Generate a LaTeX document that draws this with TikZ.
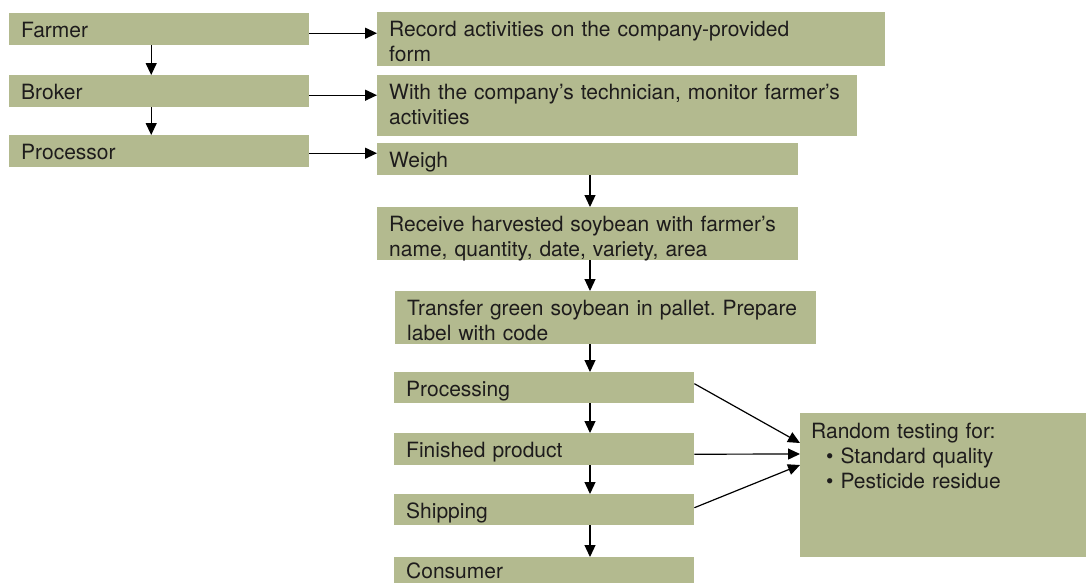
\documentclass[tikz,border=0pt]{standalone}
\usepackage{fontspec}
\setmainfont{TeX Gyre Heros}
\frenchspacing
\usetikzlibrary{arrows.meta}
\definecolor{soyfill}{HTML}{B3BA8F}
\definecolor{soyink}{HTML}{1E1C1C}
\tikzset{
  >={Triangle[length=12pt,width=11pt]},
  font=\fontsize{21}{25.3}\selectfont,
  stepbox/.style={fill=soyfill,text=soyink,anchor=north west,inner xsep=12pt,
                  inner ysep=0pt,align=left,text height=24pt},
  flow/.style={->,line width=1.2pt,draw=black},
}

\begin{document}
\begin{tikzpicture}[x=1pt,y=-1pt]
  \useasboundingbox (0,0) rectangle (1086,582);

  % actors on the left
  \node[stepbox,text width=276pt,text depth=8pt] (farmer) at (9,13) {Farmer};
  \node[stepbox,text width=276pt,text depth=8pt] (broker) at (9,75) {Broker};
  \node[stepbox,text width=276pt,text depth=8pt] (processor) at (9,135) {Processor};

  % their activities
  \node[stepbox,text width=484pt,text depth=30pt] (record) at (377,12)
    {Record activities on the company-provided\\form};
  \node[stepbox,text width=456pt,text depth=37pt] (monitor) at (377,75)
    {With the company’s technician, monitor farmer’s\\activities};
  \node[stepbox,text width=397pt,text depth=8pt] (weigh) at (377,143) {Weigh};
  \node[stepbox,text width=397pt,text depth=29pt] (receive) at (377,207)
    {Receive harvested soybean with farmer’s\\name, quantity, date, variety, area};
  \node[stepbox,text width=397pt,text depth=29pt] (transfer) at (395,291)
    {Transfer green soybean in pallet. Prepare\\label with code};
  \node[stepbox,text width=276pt,text depth=7pt] (processing) at (394,372) {Processing};
  \node[stepbox,text width=276pt,text depth=8pt] (finished) at (394,433) {Finished product};
  \node[stepbox,text width=276pt,text depth=7pt] (shipping) at (394,494) {Shipping};
  \node[stepbox,text width=276pt,text height=21pt,text depth=19pt] (consumer) at (394,557) {Consumer};

  \node[stepbox,inner xsep=11pt,text width=264pt,text height=25pt,text depth=119pt]
    (random) at (800,413)
    {Random testing for:\\
     \hspace*{15pt}•\hspace{7pt}Standard quality\\
     \hspace*{15pt}•\hspace{7pt}Pesticide residue};

  \coordinate (spine) at (590,0);

  \draw[flow] ([xshift=-8pt]farmer.south) -- ([xshift=-8pt]broker.north);
  \draw[flow] ([xshift=-8pt]broker.south) -- ([xshift=-8pt]processor.north);

  \draw[flow] ([yshift=-4pt]farmer.east) -- ([yshift=-4pt]farmer.east -| record.west);
  \draw[flow] ([yshift=-4pt]broker.east) -- ([yshift=-4pt]broker.east -| monitor.west);
  \draw[flow] ([yshift=-2pt]processor.east) -- ([yshift=-2pt]processor.east -| weigh.west);

  \draw[flow] (weigh.south -| spine) -- (receive.north -| spine);
  \draw[flow] (receive.south -| spine) -- (transfer.north -| spine);
  \draw[flow] (transfer.south -| spine) -- (processing.north -| spine);
  \draw[flow] (processing.south -| spine) -- (finished.north -| spine);
  \draw[flow] (finished.south -| spine) -- (shipping.north -| spine);
  \draw[flow] (shipping.south -| spine) -- (consumer.north -| spine);

  % every stage after processing is sampled
  \draw[flow] ([yshift=4pt]processing.east) -- ([yshift=-30pt]random.north west);
  \draw[flow] ([yshift=-5pt]finished.east) -- ([yshift=-41pt]random.north west);
  \draw[flow] ([yshift=2pt]shipping.east) -- ([yshift=-52pt]random.north west);
\end{tikzpicture}
\end{document}
